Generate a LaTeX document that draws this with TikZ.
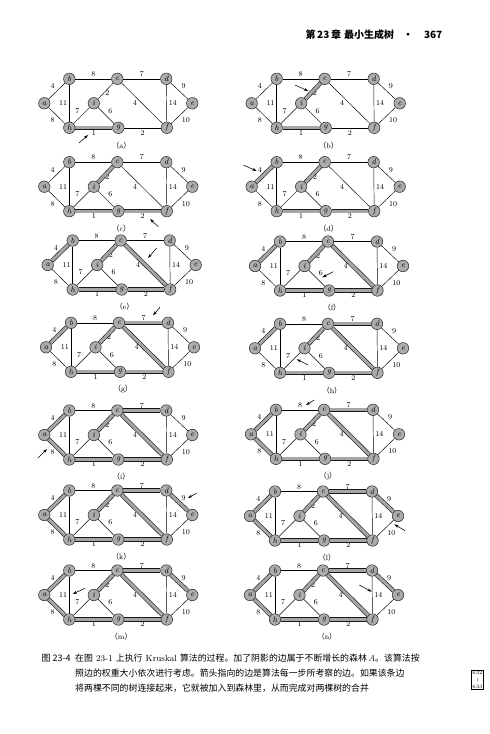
\documentclass[tikz,border=0pt]{standalone}
\usepackage{fontspec}
\newfontfamily\cjk{Noto Sans CJK SC}
\usetikzlibrary{arrows.meta}

\begin{document}
\begin{tikzpicture}[x=1pt, y=-1pt, >={Stealth[length=4.5pt,width=2.8pt]},
  font=\fontsize{7.5}{8}\selectfont]
\tikzset{vertex/.style = {draw=black!85, circle, fill=gray!65,
  minimum size=11.5pt, inner sep=0pt, line width=.5pt,
  font=\fontsize{8}{8}\selectfont\itshape},
  wt/.style = {inner sep=2pt, font=\fontsize{7.5}{8}\selectfont},
  edge/.style = {line width=.45pt},
  tree/.style = {draw=black!90, line width=.6pt, double=gray!70,
  double distance=3pt},
  pointer/.style = {->, line width=.55pt}}
\pgfdeclarelayer{background}
\pgfsetlayers{background,main}

  \begin{pgfonlayer}{background}
    \fill[white] (0,0) rectangle (490,734);
  \end{pgfonlayer}
  \useasboundingbox (0,0) rectangle (490,734);

  \node[anchor=west, font=\cjk\bfseries\fontsize{10}{11}\selectfont]
    (head) at (302,34.5)
    {第\,23\,章\hspace{3pt}最小生成树\hspace{9pt}•\hspace{11pt}367};

  % one small graph per step
  \foreach \gr/\ax/\ay/\nk/\tx/\ty/\hx/\hy in {
    a/44.3/103.3/1/34.7/39.7/43.7/31.7,
    b/251.7/103.3/2/43.3/-18.3/56.6/-12.3,
    c/44.3/186.7/3/114/40/105.7/32.3,
    d/251.7/186.7/4/-8.3/-21.7/5/-15.7,
    e/47.7/265/5/109/-17/100.3/-7,
    f/255/266/5/78.3/5.7/67.3/11.3,
    g/46/347.3/6/114/-40/107/-32,
    h/255/348.3/6/53.3/16.7/41.7/11,
    i/44.3/435/7/-6.3/23/2.7/14,
    j/251/434.3/7/63.3/-34.3/55/-29.3,
    k/44.3/515/8/152.7/-22/143.7/-17,
    l/250/516/8/155/14.7/144.3/8.3,
    m/44.3/595/8/40.7/-6.7/28.4/-1,
    n/250/595/8/109.3/-10/121.7/-3.3}
  {
    \begin{scope}[shift={(\ax,\ay)}]
      \node[vertex] (\gr-a) at (0,0) {a};
      \node[vertex] (\gr-b) at (25,-24.5) {b};
      \node[vertex] (\gr-h) at (25,24.5) {h};
      \node[vertex] (\gr-i) at (49.5,0) {i};
      \node[vertex] (\gr-c) at (73,-24.5) {c};
      \node[vertex] (\gr-g) at (74,24.5) {g};
      \node[vertex] (\gr-d) at (122,-24.5) {d};
      \node[vertex] (\gr-f) at (122.5,24.5) {f};
      \node[vertex] (\gr-e) at (148,0) {e};
      \node (\gr-cap) at (77,42) {{\cjk （}\gr{\cjk ）}};
      \coordinate (\gr-tail) at (\tx,\ty);
      \coordinate (\gr-tip) at (\hx,\hy);
    \end{scope}

    \begin{pgfonlayer}{background}
      \draw[edge] (\gr-a) -- node[wt, above left] {4} (\gr-b);
      \draw[edge] (\gr-a) -- node[wt, below left] {8} (\gr-h);
      \draw[edge] (\gr-b) -- node[wt, above] {8} (\gr-c);
      \draw[edge] (\gr-b) -- node[wt, left] {11} (\gr-h);
      \draw[edge] (\gr-c) -- node[wt, above] {7} (\gr-d);
      \draw[edge] (\gr-c) -- node[wt, pos=.65, right] {2} (\gr-i);
      \draw[edge] (\gr-c) -- node[wt, left=3pt] {4} (\gr-f);
      \draw[edge] (\gr-d) -- node[wt, above right] {9} (\gr-e);
      \draw[edge] (\gr-d) -- node[wt, right] {14} (\gr-f);
      \draw[edge] (\gr-e) -- node[wt, below right] {10} (\gr-f);
      \draw[edge] (\gr-h) -- node[wt, above left] {7} (\gr-i);
      \draw[edge] (\gr-g) -- node[wt, above right] {6} (\gr-i);
      \draw[edge] (\gr-h) -- node[wt, below] {1} (\gr-g);
      \draw[edge] (\gr-g) -- node[wt, below] {2} (\gr-f);
      % edges taken so far
      \foreach \u/\v [count=\j] in {h/g,c/i,g/f,a/b,c/f,c/d,a/h,d/e}
        {\ifnum\j>\nk\relax\else\draw[tree] (\gr-\u) -- (\gr-\v);\fi}
    \end{pgfonlayer}

    \draw[pointer] (\gr-tail) -- (\gr-tip);
  }

  \node[anchor=base west, font=\cjk\fontsize{9}{9}\selectfont]
    (capnum) at (38,661.5) {图 23-4};
  \node[anchor=base west, font=\fontsize{8.9}{9}\selectfont]
    (cap1) at (71.7,661.5)
    {{\cjk 在图} 23-1 {\cjk 上执行} Kruskal
    {\cjk 算法的过程。加了阴影的边属于不断增长的森林}\,\textit{A}{\cjk 。该算法按}};
  \node[anchor=base west, font=\cjk\fontsize{8.9}{9}\selectfont]
    (cap2) at (71.7,676.5)
    {照边的权重大小依次进行考虑。箭头指向的边是算法每一步所考察的边。如果该条边};
  \node[anchor=base west, font=\cjk\fontsize{8.9}{9}\selectfont]
    (cap3) at (71.7,691.5)
    {将两棵不同的树连接起来，它就被加入到森林里，从而完成对两棵树的合并};

  \node[draw, line width=.4pt, inner sep=.8pt, align=center,
    font=\fontsize{5}{7}\selectfont] (margin) at (477.5,680)
    {632\\$\wr$\\633};

\end{tikzpicture}
\end{document}
